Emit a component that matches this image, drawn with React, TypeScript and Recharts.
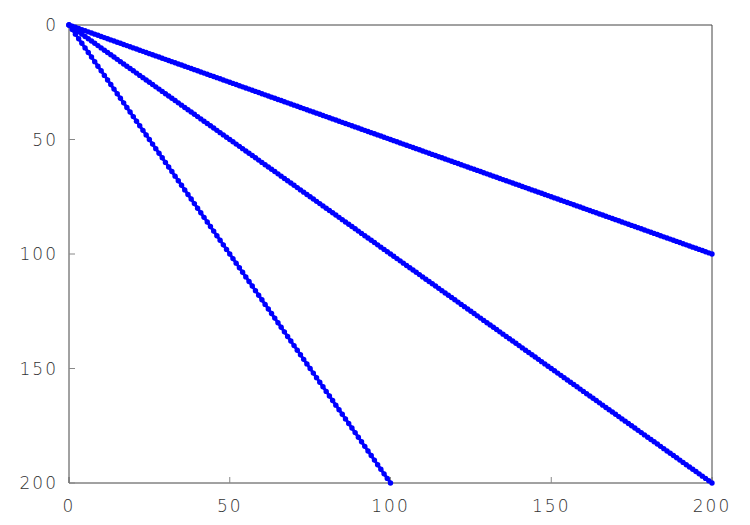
import { ScatterChart, Scatter, XAxis, YAxis } from "recharts";

// x positions, one per sample (0..200)
const xFine = [
  0, 1, 2, 3, 4, 5, 6, 7, 8, 9, 10, 11, 12, 13, 14, 15, 16, 17, 18, 19,
  20, 21, 22, 23, 24, 25, 26, 27, 28, 29, 30, 31, 32, 33, 34, 35, 36, 37, 38, 39,
  40, 41, 42, 43, 44, 45, 46, 47, 48, 49, 50, 51, 52, 53, 54, 55, 56, 57, 58, 59,
  60, 61, 62, 63, 64, 65, 66, 67, 68, 69, 70, 71, 72, 73, 74, 75, 76, 77, 78, 79,
  80, 81, 82, 83, 84, 85, 86, 87, 88, 89, 90, 91, 92, 93, 94, 95, 96, 97, 98, 99,
  100, 101, 102, 103, 104, 105, 106, 107, 108, 109, 110, 111, 112, 113, 114, 115, 116, 117, 118, 119,
  120, 121, 122, 123, 124, 125, 126, 127, 128, 129, 130, 131, 132, 133, 134, 135, 136, 137, 138, 139,
  140, 141, 142, 143, 144, 145, 146, 147, 148, 149, 150, 151, 152, 153, 154, 155, 156, 157, 158, 159,
  160, 161, 162, 163, 164, 165, 166, 167, 168, 169, 170, 171, 172, 173, 174, 175, 176, 177, 178, 179,
  180, 181, 182, 183, 184, 185, 186, 187, 188, 189, 190, 191, 192, 193, 194, 195, 196, 197, 198, 199,
  200,
];

// shallow line: ends at (200, 100)
const yHalf = [
  0, 0.5, 1, 1.5, 2, 2.5, 3, 3.5, 4, 4.5, 5, 5.5, 6, 6.5, 7, 7.5, 8, 8.5, 9, 9.5,
  10, 10.5, 11, 11.5, 12, 12.5, 13, 13.5, 14, 14.5, 15, 15.5, 16, 16.5, 17, 17.5, 18, 18.5, 19, 19.5,
  20, 20.5, 21, 21.5, 22, 22.5, 23, 23.5, 24, 24.5, 25, 25.5, 26, 26.5, 27, 27.5, 28, 28.5, 29, 29.5,
  30, 30.5, 31, 31.5, 32, 32.5, 33, 33.5, 34, 34.5, 35, 35.5, 36, 36.5, 37, 37.5, 38, 38.5, 39, 39.5,
  40, 40.5, 41, 41.5, 42, 42.5, 43, 43.5, 44, 44.5, 45, 45.5, 46, 46.5, 47, 47.5, 48, 48.5, 49, 49.5,
  50, 50.5, 51, 51.5, 52, 52.5, 53, 53.5, 54, 54.5, 55, 55.5, 56, 56.5, 57, 57.5, 58, 58.5, 59, 59.5,
  60, 60.5, 61, 61.5, 62, 62.5, 63, 63.5, 64, 64.5, 65, 65.5, 66, 66.5, 67, 67.5, 68, 68.5, 69, 69.5,
  70, 70.5, 71, 71.5, 72, 72.5, 73, 73.5, 74, 74.5, 75, 75.5, 76, 76.5, 77, 77.5, 78, 78.5, 79, 79.5,
  80, 80.5, 81, 81.5, 82, 82.5, 83, 83.5, 84, 84.5, 85, 85.5, 86, 86.5, 87, 87.5, 88, 88.5, 89, 89.5,
  90, 90.5, 91, 91.5, 92, 92.5, 93, 93.5, 94, 94.5, 95, 95.5, 96, 96.5, 97, 97.5, 98, 98.5, 99, 99.5,
  100,
];

// diagonal line: ends at (200, 200)
const yUnit = [
  0, 1, 2, 3, 4, 5, 6, 7, 8, 9, 10, 11, 12, 13, 14, 15, 16, 17, 18, 19,
  20, 21, 22, 23, 24, 25, 26, 27, 28, 29, 30, 31, 32, 33, 34, 35, 36, 37, 38, 39,
  40, 41, 42, 43, 44, 45, 46, 47, 48, 49, 50, 51, 52, 53, 54, 55, 56, 57, 58, 59,
  60, 61, 62, 63, 64, 65, 66, 67, 68, 69, 70, 71, 72, 73, 74, 75, 76, 77, 78, 79,
  80, 81, 82, 83, 84, 85, 86, 87, 88, 89, 90, 91, 92, 93, 94, 95, 96, 97, 98, 99,
  100, 101, 102, 103, 104, 105, 106, 107, 108, 109, 110, 111, 112, 113, 114, 115, 116, 117, 118, 119,
  120, 121, 122, 123, 124, 125, 126, 127, 128, 129, 130, 131, 132, 133, 134, 135, 136, 137, 138, 139,
  140, 141, 142, 143, 144, 145, 146, 147, 148, 149, 150, 151, 152, 153, 154, 155, 156, 157, 158, 159,
  160, 161, 162, 163, 164, 165, 166, 167, 168, 169, 170, 171, 172, 173, 174, 175, 176, 177, 178, 179,
  180, 181, 182, 183, 184, 185, 186, 187, 188, 189, 190, 191, 192, 193, 194, 195, 196, 197, 198, 199,
  200,
];

// steep line only runs to x = 100
const xCoarse = [
  0, 1, 2, 3, 4, 5, 6, 7, 8, 9, 10, 11, 12, 13, 14, 15, 16, 17, 18, 19,
  20, 21, 22, 23, 24, 25, 26, 27, 28, 29, 30, 31, 32, 33, 34, 35, 36, 37, 38, 39,
  40, 41, 42, 43, 44, 45, 46, 47, 48, 49, 50, 51, 52, 53, 54, 55, 56, 57, 58, 59,
  60, 61, 62, 63, 64, 65, 66, 67, 68, 69, 70, 71, 72, 73, 74, 75, 76, 77, 78, 79,
  80, 81, 82, 83, 84, 85, 86, 87, 88, 89, 90, 91, 92, 93, 94, 95, 96, 97, 98, 99,
  100,
];

const yDouble = [
  0, 2, 4, 6, 8, 10, 12, 14, 16, 18, 20, 22, 24, 26, 28, 30, 32, 34, 36, 38,
  40, 42, 44, 46, 48, 50, 52, 54, 56, 58, 60, 62, 64, 66, 68, 70, 72, 74, 76, 78,
  80, 82, 84, 86, 88, 90, 92, 94, 96, 98, 100, 102, 104, 106, 108, 110, 112, 114, 116, 118,
  120, 122, 124, 126, 128, 130, 132, 134, 136, 138, 140, 142, 144, 146, 148, 150, 152, 154, 156, 158,
  160, 162, 164, 166, 168, 170, 172, 174, 176, 178, 180, 182, 184, 186, 188, 190, 192, 194, 196, 198,
  200,
];

const axisTicks = [0, 50, 100, 150, 200];

const halfData = xFine.map((x, i) => ({ x, y: yHalf[i] }));
const unitData = xFine.map((x, i) => ({ x, y: yUnit[i] }));
const doubleData = xCoarse.map((x, i) => ({ x, y: yDouble[i] }));

const BLUE = "#0000ff";

const Dot = (props: any) => <circle cx={props.cx} cy={props.cy} r={2.7} fill={BLUE} />;

const labelFont = {
  fontFamily: "'DejaVu Sans', sans-serif",
  fontWeight: 200,
  fontSize: 17,
  fill: "#333",
  letterSpacing: 2,
};

export default function App() {
  const frame = { stroke: "#444", strokeWidth: 1 };
  const tickMark = { stroke: "#888", strokeWidth: 1 };

  return (
    <div style={{ position: "absolute", left: 0, top: 0, width: 750, height: 525, background: "#fff" }}>
      <ScatterChart width={750} height={525} margin={{ top: 24, right: 37, bottom: 41, left: 0 }}>
        <XAxis
          xAxisId="bottom"
          type="number"
          dataKey="x"
          domain={[0, 200]}
          ticks={axisTicks}
          orientation="bottom"
          height={1}
          tickSize={-6}
          tickMargin={23}
          tick={labelFont}
          axisLine={frame}
          tickLine={tickMark}
        />
        <XAxis
          xAxisId="top"
          type="number"
          dataKey="x"
          domain={[0, 200]}
          ticks={axisTicks}
          orientation="top"
          height={1}
          tickSize={-6}
          tick={false}
          axisLine={frame}
          tickLine={tickMark}
        />
        <YAxis
          yAxisId="left"
          type="number"
          dataKey="y"
          reversed
          domain={[0, 200]}
          ticks={axisTicks}
          width={69}
          tickSize={-6}
          tickMargin={17}
          tick={labelFont}
          axisLine={frame}
          tickLine={tickMark}
        />
        <YAxis
          yAxisId="right"
          type="number"
          dataKey="y"
          reversed
          orientation="right"
          domain={[0, 200]}
          ticks={axisTicks}
          width={1}
          tickSize={-6}
          tick={false}
          axisLine={frame}
          tickLine={tickMark}
        />
        <Scatter
          xAxisId="bottom"
          yAxisId="left"
          data={halfData}
          fill={BLUE}
          shape={Dot}
          line={{ stroke: BLUE, strokeWidth: 3 }}
          isAnimationActive={false}
        />
        <Scatter
          xAxisId="bottom"
          yAxisId="left"
          data={unitData}
          fill={BLUE}
          shape={Dot}
          line={{ stroke: BLUE, strokeWidth: 3 }}
          isAnimationActive={false}
        />
        <Scatter
          xAxisId="bottom"
          yAxisId="left"
          data={doubleData}
          fill={BLUE}
          shape={Dot}
          line={{ stroke: BLUE, strokeWidth: 3 }}
          isAnimationActive={false}
        />
      </ScatterChart>
    </div>
  );
}
